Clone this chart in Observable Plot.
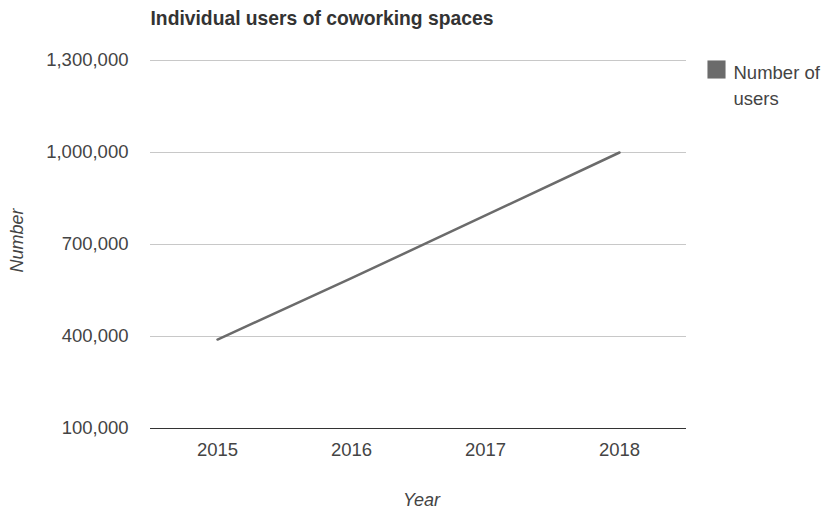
<!DOCTYPE html>
<html>
<head>
<meta charset="utf-8">
<script src="https://cdn.jsdelivr.net/npm/d3@7"></script>
<script src="https://cdn.jsdelivr.net/npm/@observablehq/plot@0.6"></script>
<style>
  html, body { margin: 0; padding: 0; background: #fff; }
  #chart svg { display: block; }
</style>
</head>
<body>
<div id="chart"></div>
<script>
const titleText = "Individual users of coworking spaces";
const years = ["2015", "2016", "2017", "2018"];
const users = [390000, 590000, 795000, 1000000];
const yTicks = [100000, 400000, 700000, 1000000, 1300000];
const seriesName = "Number of\nusers";
const xLabel = "Year";
const yLabel = "Number";

const data = years.map((y, i) => ({year: y, value: users[i]}));
const textColor = "#444";
const lineColor = "#6b6b6b";

const chart = Plot.plot({
  width: 824,
  height: 510,
  marginTop: 60,
  marginBottom: 82,
  marginLeft: 150,
  marginRight: 138,
  style: {fontFamily: "'Liberation Sans', Arial, sans-serif", fontSize: "18.5px", color: textColor, background: "#fff"},
  x: {type: "point", domain: years, padding: 0.5, label: null},
  y: {domain: [100000, 1300000], label: null},
  marks: [
    Plot.gridY(yTicks, {stroke: "#c8c8c8", strokeOpacity: 1, strokeWidth: 1}),
    Plot.ruleY([100000], {stroke: "#333", strokeWidth: 1}),
    Plot.axisY(yTicks, {tickSize: 0, tickPadding: 22, tickFormat: d3.format(","), fill: textColor, fontSize: 18.5, label: null}),
    Plot.axisX({tickSize: 0, tickPadding: 14, fill: textColor, fontSize: 18.5, label: null}),
    Plot.line(data, {x: "year", y: "value", stroke: lineColor, strokeWidth: 2.5}),
    Plot.text([titleText], {text: d => d, frameAnchor: "top-left", textAnchor: "start", lineAnchor: "middle", dy: -42, fontWeight: "bold", fontSize: 19.3, fill: "#333"}),
    Plot.text([yLabel], {text: d => d, frameAnchor: "left", textAnchor: "middle", lineAnchor: "middle", rotate: -90, dx: -133, dy: -4, fontStyle: "italic", fontSize: 18, fill: textColor}),
    Plot.text([xLabel], {text: d => d, frameAnchor: "bottom", textAnchor: "middle", lineAnchor: "middle", dy: 72, dx: 3, fontStyle: "italic", fontSize: 18, fill: textColor}),
    Plot.dot([seriesName], {frameAnchor: "top-right", symbol: "square", r: 10.2, fill: lineColor, stroke: null, dx: 30, dy: 9}),
    Plot.text([seriesName], {text: d => d, frameAnchor: "top-right", textAnchor: "start", lineAnchor: "top", dx: 47, dy: 0, lineHeight: 1.4, fontSize: 18.5, fill: textColor})
  ]
});
document.getElementById("chart").appendChild(chart);
</script>
</body>
</html>
